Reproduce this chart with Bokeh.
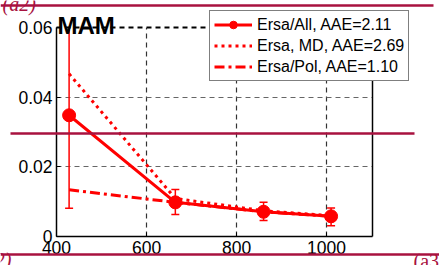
from bokeh.plotting import figure
from bokeh.models import (Legend, LegendItem, Label, LinearAxis, FixedTicker, Range1d)
from bokeh.embed import file_html
from bokeh.resources import INLINE

# ---- data ----
wavelength = [428, 664, 860, 1010]
ersa_all = [0.0348, 0.0098, 0.0071, 0.0058]
ersa_all_lo = [0.0081, 0.0063, 0.0046, 0.0031]
ersa_all_hi = [0.062, 0.0135, 0.0098, 0.0082]
ersa_md = [0.0467, 0.0109, 0.0074, 0.0060]
ersa_pol = [0.0134, 0.0098, 0.0071, 0.0058]

series_labels = ["Ersa/All, AAE=2.11", "Ersa, MD, AAE=2.69", "Ersa/Pol, AAE=1.10"]
x_ticks = [400, 600, 800, 1000]
x_tick_labels = ["400", "600", "800", "1000"]
y_ticks = [0, 0.02, 0.04, 0.06]
y_tick_labels = ["0", "0.02", "0.04", "0.06"]
title_text = "MAM"
panel_tags = ["(a2)", "(a2)", "(a3)"]

RED = "#ff0000"
CRIMSON = "#a8123f"
FONT = "Liberation Sans"
W, H = 439, 265

# ---------------- main chart ----------------
p = figure(width=W, height=H, output_backend="svg", toolbar_location=None,
           x_range=(400, 1102), y_range=(0, 0.06), title=None,
           min_border_left=56, min_border_right=67, min_border_top=27, min_border_bottom=29)
p.outline_line_color = None

for ax in (p.xaxis[0], p.yaxis[0]):
    ax.axis_line_color = "black"
    ax.axis_line_width = 1.5
    ax.major_tick_in = 4
    ax.major_tick_out = 0
    ax.minor_tick_line_color = None
    ax.major_tick_line_color = "black"
    ax.major_label_text_font = FONT
    ax.major_label_text_font_size = "17.5px"
    ax.major_label_text_color = "black"
    ax.major_label_standoff = 4
p.xaxis.ticker = FixedTicker(ticks=x_ticks)
p.xaxis.major_label_overrides = {t: l for t, l in zip(x_ticks, x_tick_labels)}
p.yaxis.ticker = FixedTicker(ticks=y_ticks)
p.yaxis.major_label_overrides = {t: l for t, l in zip(y_ticks, y_tick_labels)}

# box edges: dashed top, solid right
top_ax = LinearAxis(ticker=FixedTicker(ticks=[]), axis_line_color="black",
                    axis_line_width=1.8, axis_line_dash="5 4",
                    major_tick_line_color=None, minor_tick_line_color=None,
                    major_label_text_font_size="0px")
right_ax = LinearAxis(ticker=FixedTicker(ticks=[]), axis_line_color="black",
                      axis_line_width=1.5,
                      major_tick_line_color=None, minor_tick_line_color=None,
                      major_label_text_font_size="0px")
p.add_layout(top_ax, "above")
p.add_layout(right_ax, "right")

p.xgrid.grid_line_color = "#333333"
p.xgrid.grid_line_dash = "5 4"
p.xgrid.grid_line_width = 1.2
p.ygrid.grid_line_color = "#666666"
p.ygrid.grid_line_dash = "5 4"
p.ygrid.grid_line_width = 1.2

p.line(wavelength, ersa_md, line_color=RED, line_width=3, line_dash="3 4")
p.line(wavelength, ersa_pol, line_color=RED, line_width=3, line_dash="10 4 3 4")
p.segment(x0=wavelength, y0=ersa_all_lo, x1=wavelength, y1=ersa_all_hi,
          line_color=RED, line_width=1.5)
p.scatter(wavelength, ersa_all_lo, marker="dash", size=8, line_color=RED, line_width=1.5)
p.scatter(wavelength, ersa_all_hi, marker="dash", size=8, line_color=RED, line_width=1.5)
p.line(wavelength, ersa_all, line_color=RED, line_width=3)
p.scatter(wavelength, ersa_all, marker="circle", size=13, fill_color=RED, line_color=RED)

# ---------------- transparent overlay (legend, title, page decorations) ----------------
o = figure(width=W, height=H, output_backend="svg", toolbar_location=None, title=None,
           x_range=Range1d(0, W), y_range=Range1d(H, 0),
           x_axis_type=None, y_axis_type=None,
           min_border_left=0, min_border_right=0, min_border_top=0, min_border_bottom=0,
           styles={"position": "absolute", "left": "0px", "top": "0px"})
o.outline_line_color = None
o.background_fill_color = None
o.border_fill_color = None
o.grid.visible = False

# page rules (pixel positions of the surrounding page)
rule_y = [5, 133, 254]
rule_x0 = [0, 10, 0]
rule_x1 = [433, 414, 439]
o.segment(x0=rule_x0, y0=rule_y, x1=rule_x1, y1=rule_y, line_color=CRIMSON, line_width=2.5)

o.add_layout(Label(x=2, y=3, text=panel_tags[0], text_font="Liberation Serif",
                   text_font_style="italic", text_font_size="20px", text_color=CRIMSON,
                   text_baseline="alphabetic"))
o.add_layout(Label(x=11, y=259, text=panel_tags[1], text_align="right",
                   text_font="Liberation Serif", text_font_style="italic",
                   text_font_size="20px", text_color=CRIMSON, text_baseline="alphabetic"))
o.add_layout(Label(x=413, y=260, text=panel_tags[2], text_font="Liberation Serif",
                   text_font_size="20px", text_color=CRIMSON, text_baseline="alphabetic"))

o.add_layout(Label(x=57, y=25, text=title_text, text_font=FONT, text_font_size="24px",
                   text_font_style="bold", text_color="black", text_baseline="alphabetic"))

# legend proxies (one off-canvas point each) styled like the series
far = [-100]
l_all = o.line(far, far, line_color=RED, line_width=3)
m_all = o.scatter(far, far, marker="circle", size=13, fill_color=RED, line_color=RED)
l_md = o.line(far, far, line_color=RED, line_width=3, line_dash="3 4")
l_pol = o.line(far, far, line_color=RED, line_width=3, line_dash="10 4 3 4")
legend = Legend(items=[
    LegendItem(label=series_labels[0], renderers=[l_all, m_all]),
    LegendItem(label=series_labels[1], renderers=[l_md]),
    LegendItem(label=series_labels[2], renderers=[l_pol]),
], location=(209, H - 81))
legend.border_line_color = "black"
legend.border_line_width = 1.2
legend.background_fill_color = "white"
legend.background_fill_alpha = 1
legend.label_text_font = FONT
legend.label_text_font_size = "16px"
legend.label_text_color = "black"
legend.glyph_width = 38
legend.glyph_height = 19
legend.label_height = 19
legend.label_standoff = 5
legend.spacing = 2
legend.padding = 4
legend.margin = 0
o.add_layout(legend, "center")
# full-size marker on the first legend entry, drawn above the legend
o.scatter([232], [25.5], marker="circle", size=13, fill_color=RED, line_color=RED,
          level="overlay")

open("out.html", "w").write(file_html([p, o], INLINE))
